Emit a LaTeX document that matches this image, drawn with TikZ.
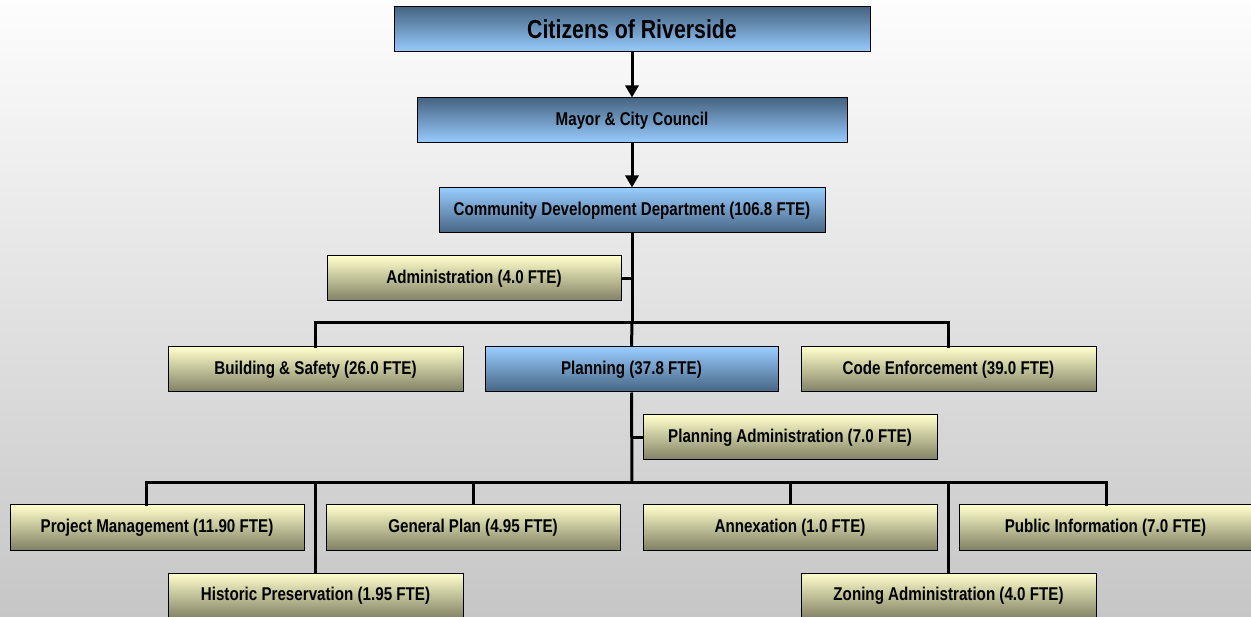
\documentclass[tikz,border=0pt]{standalone}
\usepackage{fontspec}
\setmainfont{Liberation Sans}[FakeStretch=0.82]
\usetikzlibrary{arrows.meta}
\definecolor{bgtop}{RGB}{253,253,253}
\definecolor{bgbot}{RGB}{198,198,198}
\definecolor{bluelt}{RGB}{153,204,255}
\definecolor{bluedk}{RGB}{70,100,130}
\definecolor{yellt}{RGB}{255,255,204}
\definecolor{yeldk}{RGB}{128,128,100}
\tikzset{
  box/.style={draw=black, line width=1pt, inner sep=0pt, font=\bfseries\fontsize{18.5}{20}\selectfont, text=black},
  bluedown/.style={box, top color=bluedk, bottom color=bluelt},
  blueup/.style={box, top color=bluelt, bottom color=bluedk},
  yel/.style={box, top color=yellt, bottom color=yeldk},
  conn/.style={line width=3pt, line cap=rect},
  arr/.style={line width=3pt, -{Triangle[length=12pt,width=13pt]}}
}
\begin{document}
\begin{tikzpicture}[x=1pt,y=-1pt]
\shade[top color=bgtop, bottom color=bgbot] (0,0) rectangle (1251,617);
\useasboundingbox (0,0) rectangle (1251,617);
\newcommand{\bx}[7]{\node[#2, minimum width=#5-#3, minimum height=#6-#4] (#1) at ({(#3+#5)/2},{(#4+#6)/2}) {#7};}
\bx{cit}{bluedown,font=\bfseries\fontsize{26}{28}\selectfont}{394}{7}{870}{52}{Citizens of Riverside}
\bx{may}{bluedown}{417}{98}{847}{143}{Mayor \& City Council}
\bx{cdd}{blueup}{439}{188}{825}{233}{Community Development Department (106.8 FTE)}
\bx{adm}{yel}{327}{256}{621}{301}{Administration (4.0 FTE)}
\bx{bld}{yel}{168}{347}{463}{392}{Building \& Safety (26.0 FTE)}
\bx{pln}{blueup}{485}{347}{778}{392}{Planning (37.8 FTE)}
\bx{code}{yel}{801}{347}{1096}{392}{Code Enforcement (39.0 FTE)}
\bx{padm}{yel}{643}{415}{937}{460}{Planning Administration (7.0 FTE)}
\bx{pm}{yel}{10}{505}{304}{550}{Project Management (11.90 FTE)}
\bx{gp}{yel}{326}{505}{620}{550}{General Plan (4.95 FTE)}
\bx{anx}{yel}{643}{505}{937}{550}{Annexation (1.0 FTE)}
\bx{pub}{yel}{959}{505}{1252}{550}{Public Information (7.0 FTE)}
\bx{hist}{yel}{168}{573}{463}{619}{Historic Preservation (1.95 FTE)}
\bx{zon}{yel}{801}{573}{1096}{619}{Zoning Administration (4.0 FTE)}
\coordinate (j1) at (632,323);
\coordinate (j2) at (632,483);
\draw[arr] (cit.south) -- (may.north);
\draw[arr] (may.south) -- (cdd.north);
\draw[conn,line cap=butt] (cdd.south) -- (j1);
\draw[conn,line cap=butt] (adm.east) -- (adm.east -| j1);
\draw[conn] (bld.north) |- (j1) -| (code.north);
\draw[conn,line cap=butt] (j1) -- (pln.north);
\draw[conn,line cap=butt] (pln.south) -- (j2);
\draw[conn,line cap=butt] (padm.west) -- (padm.west -| j2);
\draw[conn] (pm.north -| 146,0) |- (j2) -| (pub.north -| 1106,0);
\draw[conn,line cap=butt] (gp.north -| 473,0) -- (473,483);
\draw[conn,line cap=butt] (anx.north -| 790,0) -- (790,483);
\draw[conn,line cap=butt] (hist.north -| 315,0) -- (315,483);
\draw[conn,line cap=butt] (zon.north -| 948,0) -- (948,483);
\end{tikzpicture}
\end{document}
